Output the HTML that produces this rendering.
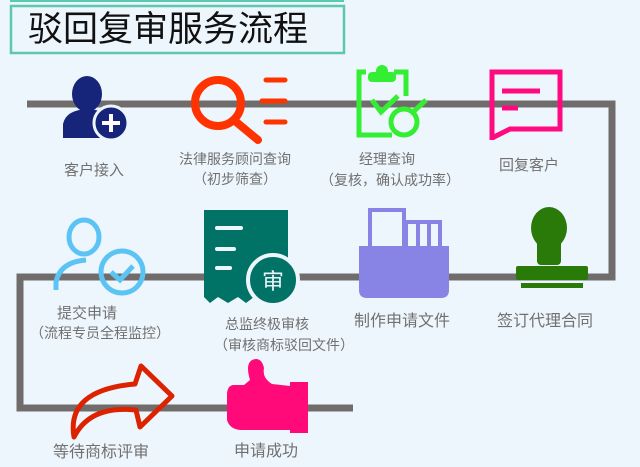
<!DOCTYPE html>
<html><head><meta charset="utf-8"><style>
body{margin:0;background:#eef6fd;}
svg{display:block;font-family:"Liberation Sans","Noto Sans CJK SC",sans-serif;}
</style></head><body>
<svg width="640" height="467" viewBox="0 0 640 467">
<rect width="640" height="467" fill="#eef6fd"/>
<line x1="10" y1="1" x2="344" y2="1" stroke="#5cc8b0" stroke-width="2"/>
<rect x="11" y="6" width="333" height="47" fill="none" stroke="#5cc8b0" stroke-width="2.5"/>
<text x="28" y="41" font-size="35" fill="#111">驳回复审服务流程</text>
<g fill="none" stroke="#706c6c" stroke-width="7">
<polyline points="27,104 612,104 612,277 20,277 20,408 353,408"/>
</g>
<g fill="#16257a">
<ellipse cx="87" cy="94" rx="15" ry="18"/>
<path d="M63,138 L63,124 Q66,110 87,109 Q108,110 113,122 L113,138 Z"/>
<circle cx="111" cy="123" r="17" stroke="#eef6fd" stroke-width="3"/>
</g>
<path d="M111,114v18M102,123h18" stroke="#fff" stroke-width="4"/>
<g stroke="#ff3300" fill="none" stroke-linecap="round">
<circle cx="218" cy="103" r="23" stroke-width="8"/>
<line x1="235" y1="121" x2="258" y2="140" stroke-width="8"/>
<line x1="266" y1="80" x2="285" y2="80" stroke-width="5"/>
<line x1="262" y1="101" x2="285" y2="101" stroke-width="5"/>
<line x1="266" y1="122" x2="285" y2="122" stroke-width="5"/>
</g>
<g stroke="#33ee33" fill="none" stroke-width="5">
<path d="M366,72 H359 V135 H392 M394,72 H406 V96"/>
<path d="M372,100 L381,112 L398,96"/>
<circle cx="404" cy="122" r="13"/>
<line x1="413" y1="112" x2="426" y2="100"/>
</g>
<rect x="368" y="72" width="28" height="10" rx="4" fill="#33ee33"/>
<circle cx="382" cy="71" r="6" fill="#33ee33"/>
<g stroke="#ff0a80" fill="none" stroke-width="5">
<path d="M492,140 V72 H560 V129 H510 L492,138"/>
<line x1="502" y1="91" x2="540" y2="91"/>
<line x1="502" y1="108" x2="518" y2="108"/>
</g>
<g fill="#707070" text-anchor="middle">
<text x="94" y="175" font-size="15">客户接入</text>
<text x="235" y="164" font-size="14">法律服务顾问查询</text>
<text x="235" y="184" font-size="14">（初步筛查）</text>
<text x="387" y="164" font-size="14">经理查询</text>
<text x="390" y="185" font-size="14">（复核，确认成功率）</text>
<text x="529" y="170" font-size="15">回复客户</text>
</g>
<g stroke="#5bc4f5" fill="none" stroke-width="5">
<ellipse cx="84" cy="237" rx="15" ry="17"/>
<path d="M56,290 V282 Q60,262 86,260"/>
<circle cx="122" cy="272" r="21"/>
<path d="M111,272 L120,280 L133,266"/>
</g>
<path d="M204,210 H288 V290 L279,303 L270,297 L262,303 L254,297 L246,303 L238,297 L228,303 L218,297 L210,303 L204,297 Z" fill="#007266"/>
<g stroke="#eef6fd" stroke-width="4" stroke-linecap="round"><line x1="217" y1="228" x2="241" y2="228"/><line x1="217" y1="249" x2="234" y2="249"/><line x1="217" y1="268" x2="230" y2="268"/></g>
<circle cx="273" cy="280" r="25" fill="#007266" stroke="#eef6fd" stroke-width="4"/>
<text x="273" y="289" font-size="22" fill="#eef6fd" text-anchor="middle">审</text>
<g stroke="#8884e6" stroke-width="4" fill="none">
<path d="M370,248 V210 H404 V248"/><path d="M406,248 V222 H440 V248"/><line x1="418" y1="222" x2="418" y2="248"/><line x1="429" y1="222" x2="429" y2="248"/>
</g>
<path d="M359,246 H449 V290 Q449,298 441,298 H367 Q359,298 359,290 Z" fill="#8884e6"/>
<g fill="#2a7a0a">
<ellipse cx="549" cy="228" rx="18" ry="21"/>
<rect x="537" y="240" width="24" height="25" rx="4"/>
<rect x="516" y="266" width="72" height="14" rx="2"/>
<rect x="521" y="283" width="62" height="5"/>
</g>
<g fill="#707070" text-anchor="middle">
<text x="87" y="318" font-size="15">提交申请</text>
<text x="100" y="338" font-size="14">（流程专员全程监控）</text>
<text x="267" y="329" font-size="14">总监终极审核</text>
<text x="284" y="350" font-size="14">（审核商标驳回文件）</text>
<text x="402" y="326" font-size="16">制作申请文件</text>
<text x="545" y="326" font-size="16">签订代理合同</text>
<text x="101" y="457" font-size="16">等待商标评审</text>
<text x="266" y="456" font-size="16">申请成功</text>
</g>
<path d="M74,437 Q66,390 135,384 L141,366 L172,396 L140,427 L136,410 Q90,405 74,437 Z" fill="none" stroke="#dd2200" stroke-width="5" stroke-linejoin="round"/>
<path d="M256,359 Q244,360 250,380 L244,385 H233 Q227,386 227,395 V420 Q230,430 242,430 H290 V433 H308 V382 H290 V386 L272,384 Q262,378 264,368 Q262,359 256,359 Z" fill="#ff0a78"/>
</svg>
</body></html>
